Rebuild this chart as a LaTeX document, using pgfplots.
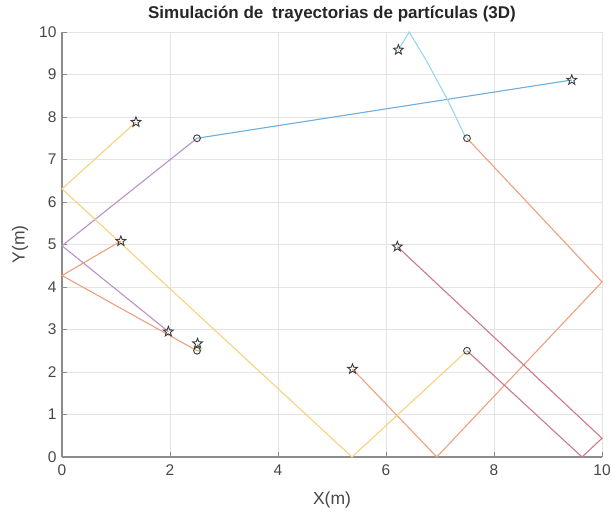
\documentclass[border=0pt]{standalone}
\usepackage{fontspec}
\setmainfont{Liberation Sans}
\usepackage{pgfplots}
\pgfplotsset{compat=1.18}

% trajectory colours (MATLAB palette, softened)
\definecolor{tBlue}{RGB}{110,174,220}
\definecolor{tOrange}{RGB}{238,160,125}
\definecolor{tYellow}{RGB}{245,210,125}
\definecolor{tPurple}{RGB}{186,145,200}
\definecolor{tGreen}{RGB}{175,210,140}
\definecolor{tCyan}{RGB}{150,215,242}
\definecolor{tRed}{RGB}{205,120,140}
\definecolor{markgray}{RGB}{60,60,60}

% outlined five-pointed star for final positions
\pgfdeclareplotmark{pentagram}{%
  \pgfpathmoveto{\pgfpointpolar{90}{\pgfplotmarksize}}%
  \pgfpathlineto{\pgfpointpolar{126}{0.42\pgfplotmarksize}}%
  \pgfpathlineto{\pgfpointpolar{162}{\pgfplotmarksize}}%
  \pgfpathlineto{\pgfpointpolar{198}{0.42\pgfplotmarksize}}%
  \pgfpathlineto{\pgfpointpolar{234}{\pgfplotmarksize}}%
  \pgfpathlineto{\pgfpointpolar{270}{0.42\pgfplotmarksize}}%
  \pgfpathlineto{\pgfpointpolar{306}{\pgfplotmarksize}}%
  \pgfpathlineto{\pgfpointpolar{342}{0.42\pgfplotmarksize}}%
  \pgfpathlineto{\pgfpointpolar{18}{\pgfplotmarksize}}%
  \pgfpathlineto{\pgfpointpolar{54}{0.42\pgfplotmarksize}}%
  \pgfpathclose\pgfusepathqstroke}

\begin{document}
\begin{tikzpicture}[x=1pt,y=1pt]
\useasboundingbox (-62,-55) rectangle (549,457);
\begin{axis}[
  at={(0,0)}, anchor=south west,
  scale only axis, width=540pt, height=425pt,
  xmin=0, xmax=10, ymin=0, ymax=10,
  xtick={0,2,...,10}, ytick={0,1,...,10},
  clip=false,
  grid=major,
  major grid style={draw=black!11, line width=0.7pt},
  axis x line*=bottom, axis y line*=left,
  axis line style={draw=black!45, line width=1.3pt, -},
  tick style={draw=black!45, line width=0.8pt},
  tick align=inside, major tick length=5pt,
  /pgf/number format/assume math mode=true,
  ticklabel style={font=\fontsize{15.5}{16}\selectfont, text=black!72},
  xticklabel style={yshift=-4pt},
  yticklabel style={xshift=-2pt},
  xlabel={X(m)}, ylabel={Y(m)},
  label style={font=\fontsize{17.5}{18}\selectfont, text=black!72},
  xlabel style={at={(axis description cs:0.5,0)}, anchor=center, yshift=-43pt},
  ylabel style={at={(axis description cs:-0.0778,0.5)}, anchor=center},
  title={Simulación de\hspace{4pt} trayectorias de partículas (3D)},
  title style={font=\fontsize{17}{17}\selectfont\bfseries, text=black!85,
    at={(axis description cs:0.5,1)}, anchor=base, yshift=7pt},
]
% particle trajectories
\addplot[tBlue, line width=1.1pt] coordinates {(2.5,7.5) (9.44,8.87)};
\addplot[tPurple, line width=1.1pt] coordinates {(2.5,7.5) (0,4.97) (1.97,2.95)};
\addplot[tCyan, line width=1.1pt] coordinates {(7.48,7.5) (7.15,8.38) (6.76,9.3) (6.43,10) (6.23,9.58)};
\addplot[tOrange, line width=1.1pt] coordinates {(7.5,7.5) (10,4.12) (6.94,0) (5.38,2.07)};
\addplot[tRed, line width=1.1pt] coordinates {(7.5,2.5) (9.63,0) (10,0.44) (6.21,4.95)};
\addplot[tYellow, line width=1.1pt] coordinates {(7.5,2.5) (5.37,0) (0,6.31) (1.37,7.88)};
\addplot[tOrange, line width=1.1pt] coordinates {(2.5,2.5) (0,4.27) (1.09,5.08)};
\addplot[tGreen, line width=1.1pt] coordinates {(2.5,2.5) (2.57,2.5) (2.51,2.67)};
% initial positions
\addplot[only marks, mark=o, mark size=3.4pt, draw=markgray, line width=0.9pt]
  coordinates {(2.5,7.5) (7.5,7.5) (7.5,2.5) (2.5,2.5)};
% final positions
\addplot[only marks, mark=pentagram, mark size=5.2pt, draw=markgray, line width=0.9pt]
  coordinates {(9.44,8.87) (1.97,2.95) (6.23,9.58) (5.38,2.07) (6.21,4.95) (1.37,7.88) (1.09,5.08) (2.51,2.67)};
\end{axis}
\end{tikzpicture}
\end{document}
